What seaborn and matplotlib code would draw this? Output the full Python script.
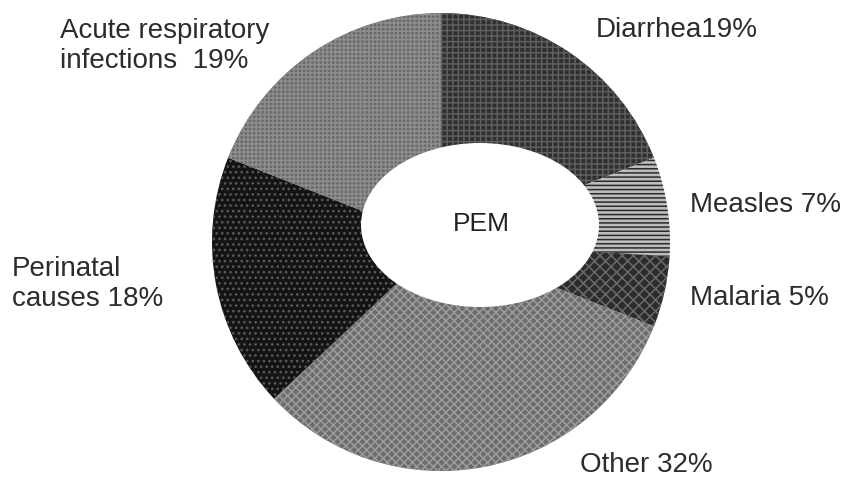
import matplotlib
matplotlib.use("Agg")
import matplotlib.pyplot as plt
from matplotlib.patches import Ellipse
import seaborn as sns

# Causes of child deaths associated with PEM (percent)
causes = ["Diarrhea", "Measles", "Malaria", "Other", "Perinatal causes",
          "Acute respiratory infections"]
shares = [19, 7, 5, 32, 18, 19]
label_texts = ["Diarrhea19%", "Measles 7%", "Malaria 5%", "Other 32%",
               "Perinatal\ncauses 18%", "Acute respiratory\ninfections  19%"]

# grey-scale fills with texture
face_colors = ["#303030", "#bdbdbd", "#2c2c2c", "#6c6c6c", "#141414", "#6a6a6a"]
hatch_colors = ["#5e5e5e", "#2a2a2a", "#6a6a6a", "#9c9c9c", "#5a5a5a", "#8e8e8e"]
hatches = ["+++", "----", "xxx", "xxxx", "...", "++++"]

sns.set_theme(style="white")
plt.rcParams["font.family"] = ["Liberation Sans", "DejaVu Sans"]
plt.rcParams["hatch.linewidth"] = 1.1

W, H = 843, 481
fig = plt.figure(figsize=(W / 100, H / 100), dpi=100)
ax = fig.add_axes([0, 0, 1, 1])

cx, cy, r = 441, H - 243, 229
wedges, _ = ax.pie(shares, startangle=90, counterclock=False,
                   center=(cx, cy), radius=r, colors=face_colors,
                   wedgeprops=dict(linewidth=0))
ax.set_xlim(0, W)
ax.set_ylim(0, H)
ax.set_aspect("equal")
ax.axis("off")
for w, hc, ht in zip(wedges, hatch_colors, hatches):
    w.set_hatch(ht)
    w.set_edgecolor(hc)
    w.set_linewidth(0)

# white centre hole (elliptical, offset up-right)
ax.add_patch(Ellipse((480, H - 226), 238, 164, facecolor="white",
                     edgecolor="none", zorder=5))
ax.text(481, H - 224, "PEM", ha="center", va="center", fontsize=19,
        color="#222222", zorder=6)

# label positions (left x, centre y of text block)
label_pos = [(596, 30), (690, 205), (690, 298), (580, 465),
             (12, 284), (60, 46)]
for txt, (x, y) in zip(label_texts, label_pos):
    ax.text(x, H - y, txt, ha="left", va="center", fontsize=20,
            color="#2c2c2c", linespacing=1.15)

fig.savefig("out.png", dpi=100, facecolor="white")
